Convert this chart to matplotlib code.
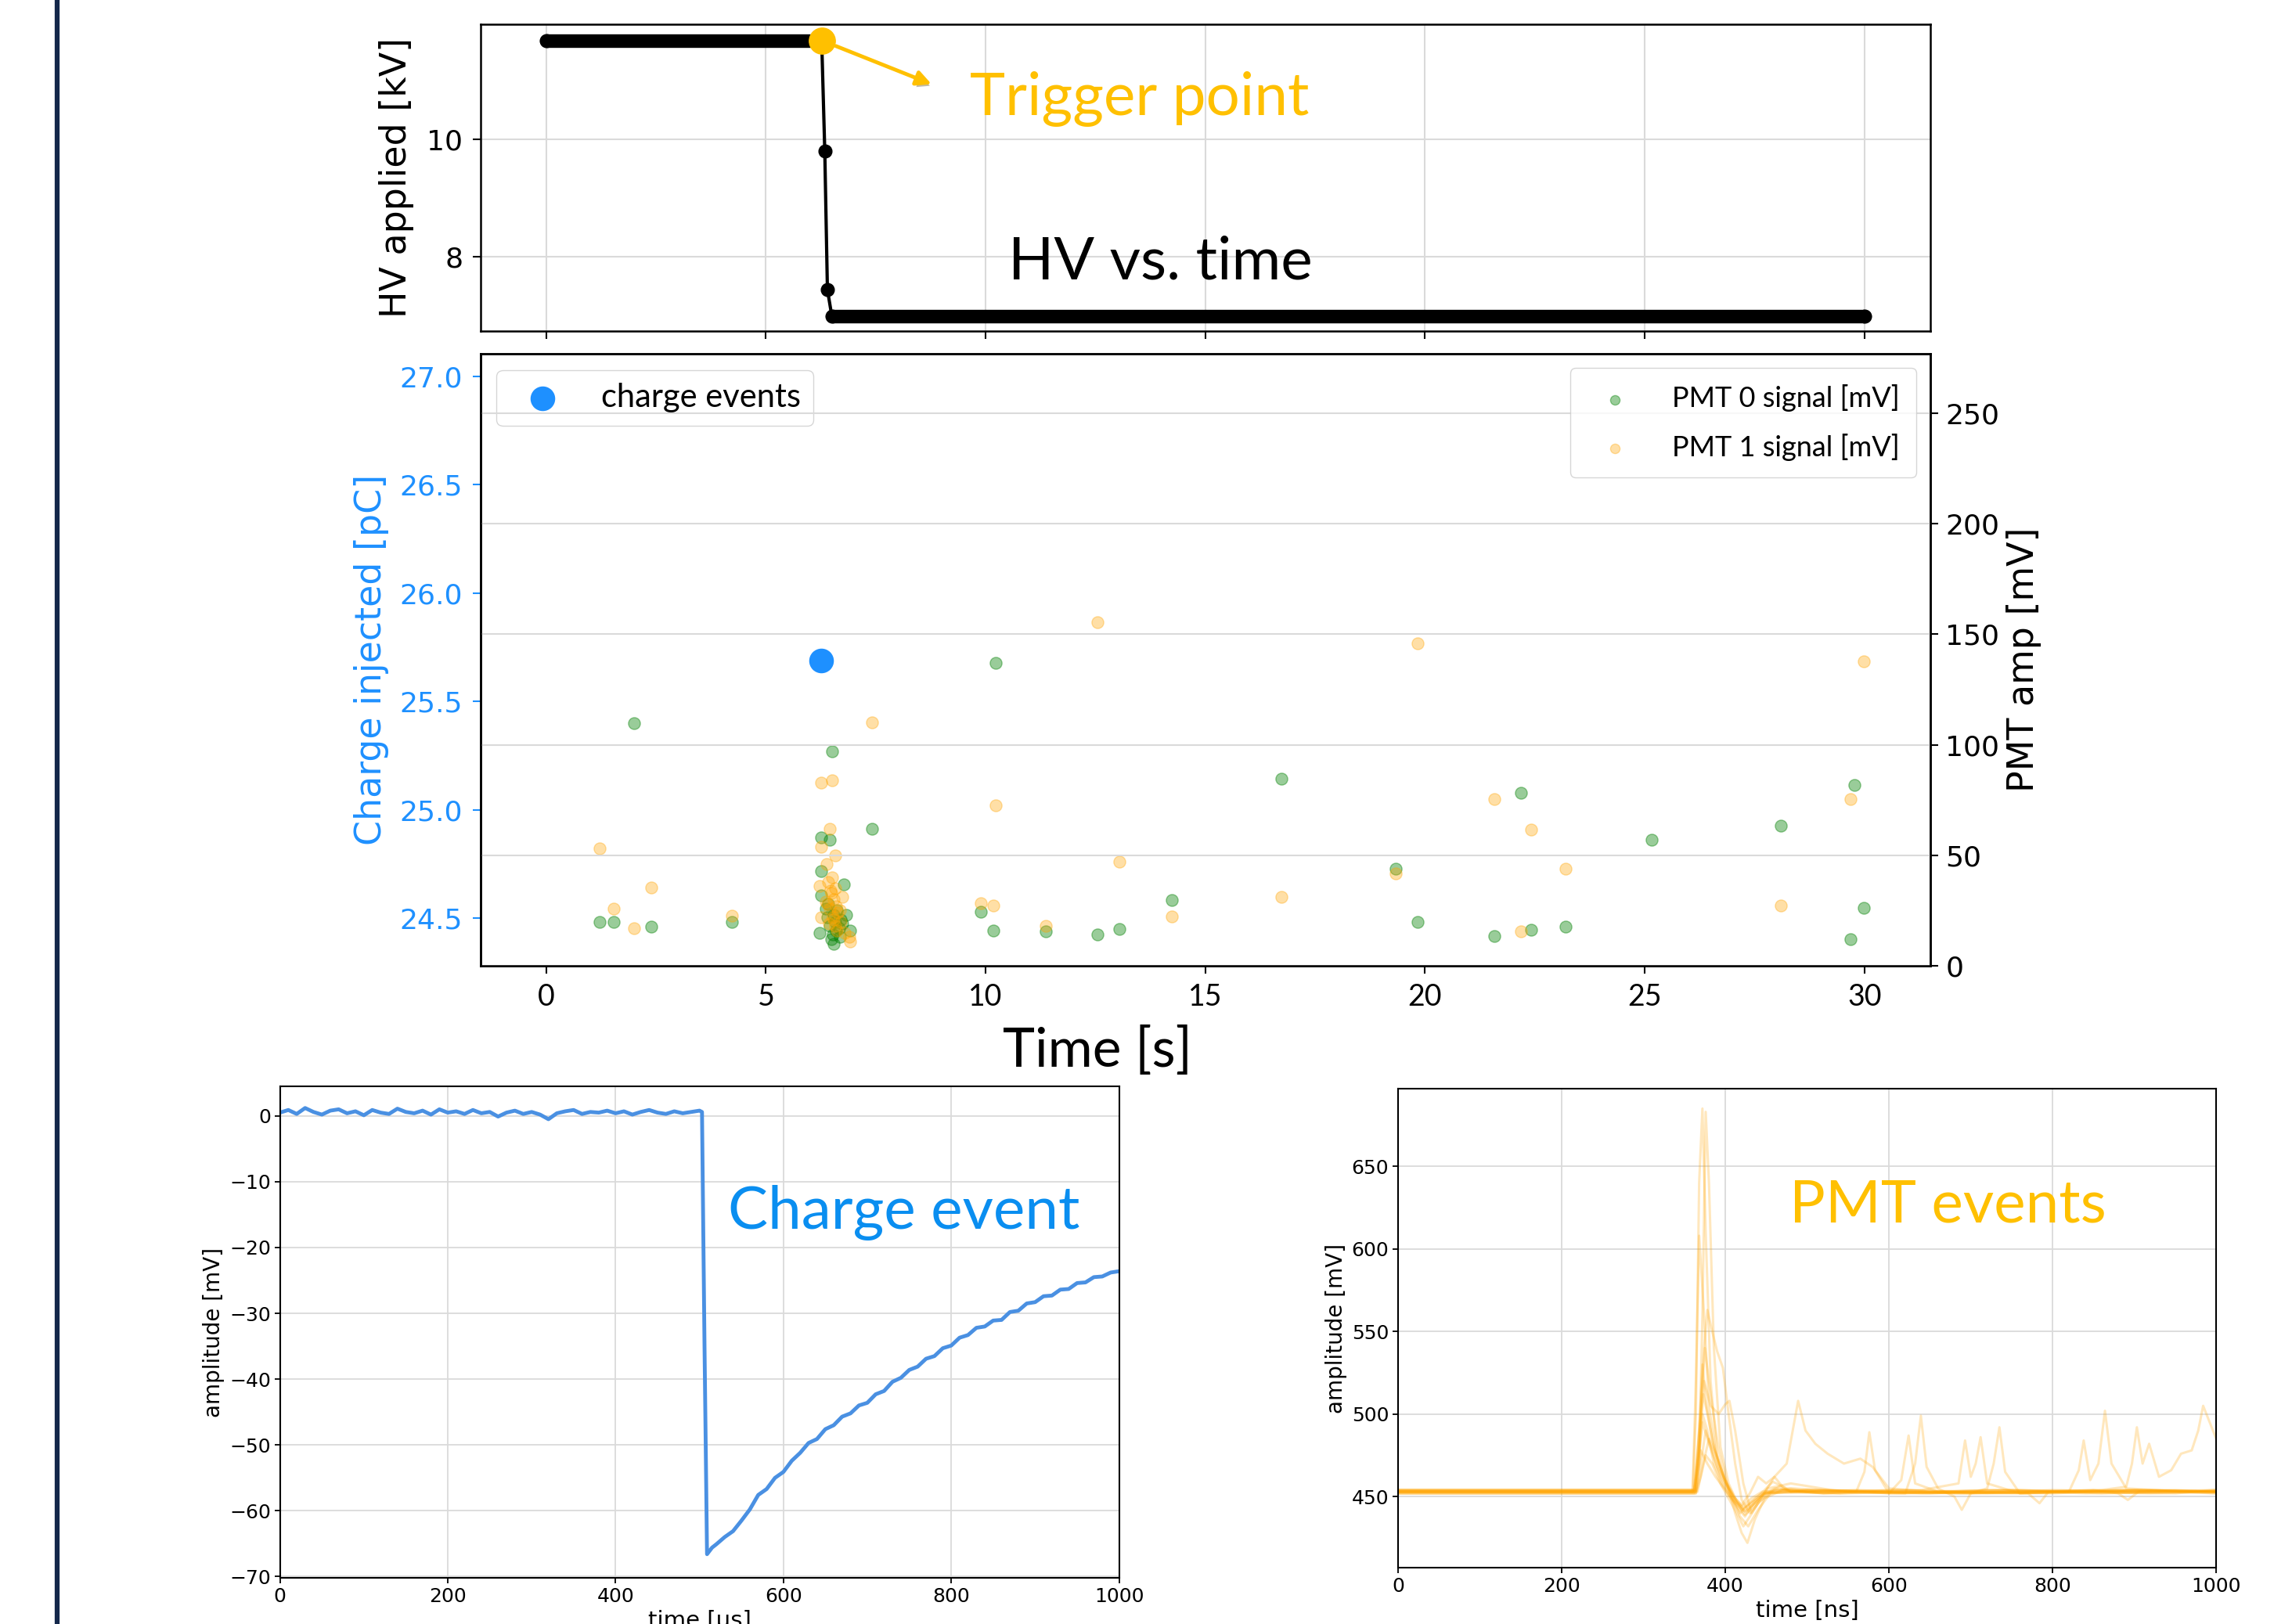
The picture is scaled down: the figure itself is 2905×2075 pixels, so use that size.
import matplotlib
matplotlib.use('Agg')
import matplotlib.pyplot as plt
import matplotlib.patheffects as pe
from matplotlib.lines import Line2D

plt.rcParams['font.family'] = 'DejaVu Sans'
CAL = ['Lato', 'DejaVu Sans']   # stand-in for the slide font

GOLD = '#FFC000'
BLUE = '#1E90FF'
GRID = '#dadada'

# ---------------- HV vs time (top panel) ----------------
hv_t = [0.0, 6.27, 6.34, 6.40, 6.50, 30.0]
hv_kv = [11.69, 11.69, 9.80, 7.43, 6.98, 6.98]
trigger_t = 6.27
trigger_kv = 11.70
arrow_end_t = 8.77
arrow_end_kv = 10.95

# ---------------- charge / PMT scatter (middle panel) ----------------
charge_event_t = [6.26]
charge_event_pc = [25.69]

pmt0_t = [1.21, 1.54, 2.00, 2.39, 4.23, 7.42, 9.89, 10.18, 10.23, 11.37, 12.54, 13.05,
          14.24, 16.73, 19.34, 19.83, 21.58, 22.18, 22.42, 23.20, 25.15, 28.09, 29.69,
          29.78, 29.99,
          6.50, 6.26, 6.46, 6.26, 6.78, 6.26, 6.22, 6.54, 6.91, 6.82, 6.40, 6.45,
          6.52, 6.58, 6.62, 6.66, 6.70, 6.36, 6.48, 6.55, 6.60, 6.74, 6.42, 6.68]
pmt0_mv = [19.7, 19.7, 109.6, 17.7, 19.7, 62.0, 24.6, 16.1, 137.0, 15.5, 14.1, 16.8,
           29.6, 84.8, 44.0, 19.7, 13.4, 78.3, 16.3, 17.7, 57.1, 63.5, 12.0,
           81.9, 26.1,
           97, 58, 57, 43, 37, 32, 15, 10, 16, 23, 22, 18,
           14, 20, 25, 17, 21, 26, 12, 23, 16, 19, 28, 13]

pmt1_t = [1.21, 1.54, 2.00, 2.39, 4.23, 7.42, 9.89, 10.18, 10.23, 11.37, 12.54, 13.05,
          14.24, 16.73, 19.34, 19.83, 21.58, 22.18, 22.42, 23.20, 28.09, 29.69, 29.99,
          6.26, 6.50, 6.46, 6.26, 6.58, 6.38, 6.51, 6.22, 6.73, 6.26, 6.91, 6.89,
          6.42, 6.47, 6.55, 6.60, 6.64, 6.70, 6.45, 6.52, 6.57, 6.62, 6.36, 6.68,
          6.49, 6.54, 6.44, 6.80, 6.40, 6.58]
pmt1_mv = [53.0, 26.0, 17.0, 35.5, 22.8, 110.0, 28.2, 27.3, 72.5, 17.9, 155.3, 47.2,
           22.4, 31.0, 41.8, 146.0, 75.6, 15.5, 61.5, 43.8, 27.3, 75.6, 137.6,
           83, 84, 62, 54, 50, 46, 40, 36, 31, 22, 11, 13,
           38, 34, 30, 27, 24, 20, 26, 22, 18, 16, 29, 25,
           33, 21, 19, 15, 28, 35]

# ---------------- charge waveform (bottom left) ----------------
charge_wf_t = [0, 10, 20, 30, 40, 50, 60, 70, 80, 90,
               100, 110, 120, 130, 140, 150, 160, 170, 180, 190,
               200, 210, 220, 230, 240, 250, 260, 270, 280, 290,
               300, 310, 320, 330, 340, 350, 360, 370, 380, 390,
               400, 410, 420, 430, 440, 450, 460, 470, 480, 490, 500,
               503, 506, 509, 515, 520, 530, 540, 550, 560, 570, 580, 590,
               600, 610, 620, 630, 640, 650, 660, 670, 680, 690,
               700, 710, 720, 730, 740, 750, 760, 770, 780, 790,
               800, 810, 820, 830, 840, 850, 860, 870, 880, 890,
               900, 910, 920, 930, 940, 950, 960, 970, 980, 990, 1000]
charge_wf_mv = [0.5, 0.9, 0.3, 1.2, 0.6, 0.2, 0.8, 1.0, 0.4, 0.7,
                0.1, 0.9, 0.5, 0.3, 1.1, 0.6, 0.4, 0.8, 0.2, 1.0,
                0.5, 0.7, 0.3, 0.9, 0.4, 0.6, -0.1, 0.5, 0.8, 0.3,
                0.6, 0.2, -0.5, 0.4, 0.7, 0.9, 0.3, 0.6, 0.5, 0.8,
                0.4, 0.7, 0.2, 0.6, 0.9, 0.5, 0.3, 0.7, 0.4, 0.6, 0.8,
                0.6, -35.0, -66.6, -65.6, -65.1, -64.0, -63.1, -61.5, -59.8, -57.6, -56.7, -55.0,
                -54.1, -52.4, -51.2, -49.7, -49.1, -47.6, -47.0, -45.7, -45.2, -44.0,
                -43.6, -42.3, -41.8, -40.4, -39.8, -38.6, -38.1, -36.9, -36.5, -35.3,
                -34.9, -33.7, -33.3, -32.2, -32.0, -31.1, -31.0, -29.8, -29.6, -28.5,
                -28.3, -27.4, -27.3, -26.4, -26.3, -25.4, -25.3, -24.5, -24.4, -23.8, -23.6]

# ---------------- PMT waveforms (bottom right) ----------------
wf_a_t = [0, 360, 364, 368, 372, 376, 382, 390, 400, 410, 420, 432, 445, 470, 520, 600, 700, 800, 900, 1000]
wf_a_mv = [453, 453, 500, 640, 685, 610, 520, 475, 458, 448, 444, 449, 453, 454, 452, 454, 453, 452, 454, 453]

wf_b_t = [0, 364, 368, 372, 376, 380, 386, 394, 404, 414, 424, 436, 450, 480, 560, 650, 750, 850, 950, 1000]
wf_b_mv = [454, 454, 470, 560, 683, 640, 540, 480, 458, 447, 441, 446, 452, 455, 453, 452, 454, 453, 452, 454]

wf_c_t = [0, 360, 364, 368, 374, 380, 388, 398, 408, 418, 428, 440, 455, 500, 600, 700, 800, 900, 1000]
wf_c_mv = [453, 453, 520, 608, 560, 505, 478, 462, 450, 438, 432, 442, 452, 454, 453, 452, 453, 454, 453]

wf_d_t = [0, 362, 368, 374, 378, 384, 390, 397, 404, 412, 420, 430, 442, 460, 520, 620, 720, 820, 920, 1000]
wf_d_mv = [452, 452, 480, 540, 563, 550, 538, 528, 500, 470, 448, 440, 447, 454, 453, 452, 454, 453, 452, 453]

wf_e_t = [0, 362, 368, 374, 382, 392, 400, 405, 412, 422, 432, 445, 460, 475, 489, 498, 510, 525,
          545, 565, 580, 600, 650, 750, 850, 950, 1000]
wf_e_mv = [453, 453, 478, 520, 505, 500, 506, 508, 490, 458, 440, 450, 462, 470, 508, 490, 482, 476,
           470, 473, 468, 455, 453, 452, 453, 454, 453]

wf_f_t = [0, 362, 368, 375, 382, 392, 402, 412, 420, 427, 436, 448, 470, 520, 560, 570, 576, 583,
          600, 615, 624, 632, 660, 760, 860, 960, 1000]
wf_f_mv = [454, 454, 490, 540, 512, 478, 458, 440, 428, 422, 436, 449, 454, 452, 453, 465, 489, 466,
           452, 460, 487, 458, 453, 454, 452, 453, 454]

wf_g_t = [0, 364, 368, 372, 378, 386, 396, 408, 418, 430, 445, 520, 620, 632, 639, 646, 660, 680,
          689, 700, 720, 728, 735, 742, 760, 860, 1000]
wf_g_mv = [453, 453, 475, 500, 490, 470, 458, 448, 440, 446, 452, 453, 452, 470, 499, 468, 455, 450,
           442, 452, 455, 470, 492, 465, 452, 453, 453]

wf_h_t = [0, 364, 370, 376, 384, 394, 404, 414, 424, 436, 450, 540, 640, 685, 693, 700, 706, 712,
          720, 760, 820, 832, 838, 846, 856, 864, 872, 890, 960, 1000]
wf_h_mv = [452, 452, 470, 490, 478, 462, 452, 444, 438, 447, 453, 452, 454, 458, 484, 462, 470, 486,
           458, 452, 453, 466, 484, 460, 470, 502, 470, 455, 453, 452]

wf_i_t = [0, 366, 372, 380, 388, 398, 410, 420, 432, 448, 520, 640, 760, 860, 890, 897, 903, 910,
          918, 930, 945, 957, 970, 978, 984, 992, 1000]
wf_i_mv = [453, 453, 468, 485, 476, 462, 450, 442, 446, 452, 454, 452, 453, 454, 456, 470, 492, 470,
           482, 462, 466, 476, 478, 490, 505, 495, 485]

wf_j_t = [0, 364, 370, 378, 388, 400, 412, 424, 438, 452, 480, 530, 600, 700, 770, 784, 795, 850,
          880, 892, 905, 1000]
wf_j_mv = [453, 453, 478, 470, 462, 454, 446, 441, 447, 455, 458, 454, 452, 453, 452, 446, 453, 454,
           452, 448, 453, 453]

wf_k_t = [0, 362, 367, 372, 380, 390, 400, 410, 420, 430, 440, 450, 460, 470, 480, 500, 600, 700,
          800, 900, 1000]
wf_k_mv = [454, 454, 470, 495, 482, 468, 458, 450, 445, 452, 462, 458, 462, 456, 453, 454, 453, 452,
           454, 453, 454]

wf_l_t = [0, 364, 370, 376, 384, 394, 404, 414, 422, 430, 440, 452, 466, 480, 540, 640, 740, 840,
          940, 1000]
wf_l_mv = [452, 452, 462, 475, 470, 458, 449, 440, 432, 438, 446, 452, 456, 453, 452, 453, 454, 452,
           453, 452]

wf_m_t = [0, 363, 368, 373, 379, 386, 394, 404, 414, 424, 434, 446, 460, 500, 560, 680, 780, 880, 1000]
wf_m_mv = [453, 453, 488, 512, 498, 480, 466, 455, 446, 439, 444, 451, 455, 453, 454, 452, 453, 454, 453]

wf_n_t = [0, 362, 367, 372, 377, 384, 392, 402, 412, 422, 432, 444, 458, 475, 510, 620, 720, 820, 920, 1000]
wf_n_mv = [454, 454, 482, 530, 505, 484, 470, 458, 449, 443, 447, 452, 459, 455, 453, 454, 452, 453, 454, 453]


def style_spines(ax, lw):
    for s in ax.spines.values():
        s.set_linewidth(lw)


fig = plt.figure(figsize=(29.05, 20.75), dpi=100)

# slide edge bar
fig.add_artist(Line2D([0.0251, 0.0251], [0, 1], transform=fig.transFigure,
                      color='#14284b', lw=4.5))

ax_hv = fig.add_axes([0.2112, 0.7961, 0.6377, 0.1891])
ax_q = fig.add_axes([0.2112, 0.4053, 0.6377, 0.3770])
ax_pmt = ax_q.twinx()
ax_cw = fig.add_axes([0.1231, 0.0284, 0.3690, 0.3027])
ax_pw = fig.add_axes([0.6148, 0.0347, 0.3598, 0.2949])

# ---- top: HV ----
ax_hv.plot(hv_t[:2], hv_kv[:2], color='black', lw=12.5, solid_capstyle='round')
ax_hv.plot(hv_t[4:], hv_kv[4:], color='black', lw=12.5, solid_capstyle='round')
ax_hv.plot(hv_t, hv_kv, color='black', lw=3, marker='o', ms=12)
ax_hv.plot([trigger_t], [trigger_kv], 'o', ms=24, color=GOLD, zorder=6, clip_on=False)
ax_hv.annotate('', xy=(arrow_end_t, arrow_end_kv), xytext=(trigger_t, trigger_kv),
               arrowprops=dict(arrowstyle='-|>', color=GOLD, lw=3.5, mutation_scale=28,
                               shrinkA=14, shrinkB=0,
                               path_effects=[pe.withSimplePatchShadow(offset=(2, -3), alpha=0.35)]))
ax_hv.set_xlim(-1.5, 31.5)
ax_hv.set_ylim(6.72, 11.98)
ax_hv.set_xticks([0, 5, 10, 15, 20, 25, 30])
ax_hv.set_xticklabels([])
ax_hv.set_yticks([8, 10])
ax_hv.grid(True, color=GRID, lw=1.5)
ax_hv.set_axisbelow(True)
ax_hv.set_ylabel('HV applied [kV]', fontsize=33, labelpad=12)
ax_hv.tick_params(labelsize=26, length=7, width=1.5, pad=9)
style_spines(ax_hv, 1.8)

fig.text(0.4265, 0.9292, 'Trigger point', color=GOLD, fontsize=55, family=CAL, va='baseline')
fig.text(0.4433, 0.8281, 'HV vs. time', color='black', fontsize=55, family=CAL, va='baseline')

# ---- middle: charge + PMT amplitudes ----
ax_q.scatter(charge_event_t, charge_event_pc, s=470, color=BLUE, label='charge events', zorder=3)
ax_q.set_xlim(-1.5, 31.5)
ax_q.set_ylim(24.28, 27.105)
ax_q.set_yticks([24.5, 25.0, 25.5, 26.0, 26.5, 27.0])
ax_q.set_yticklabels(['24.5', '25.0', '25.5', '26.0', '26.5', '27.0'])
ax_q.set_xticks([0, 5, 10, 15, 20, 25, 30])
ax_q.tick_params(axis='y', colors=BLUE, labelsize=26, length=7, width=1.5, pad=9)
ax_q.tick_params(axis='x', labelsize=27, length=7, width=1.5, pad=9)
for lab in ax_q.get_xticklabels():
    lab.set_family(CAL)
ax_q.set_ylabel('Charge injected [pC]', color=BLUE, fontsize=33, labelpad=10)
ax_q.set_xlabel('Time [s]', fontsize=50, family=CAL)
ax_q.xaxis.set_label_coords(0.4254, -0.098)
ax_q.legend(loc='upper left', prop={'family': CAL, 'size': 30})
style_spines(ax_q, 1.8)

ax_pmt.scatter(pmt0_t, pmt0_mv, s=120, color='green', alpha=0.4, label='PMT 0 signal [mV]')
ax_pmt.scatter(pmt1_t, pmt1_mv, s=120, color='orange', alpha=0.35, label='PMT 1 signal [mV]')
ax_pmt.set_ylim(0, 277)
ax_pmt.set_yticks([0, 50, 100, 150, 200, 250])
ax_pmt.grid(True, axis='y', color=GRID, lw=1.5)
ax_pmt.tick_params(axis='y', labelsize=26, length=7, width=1.5, pad=7)
ax_pmt.set_ylabel('PMT amp [mV]', fontsize=33, labelpad=6)
ax_pmt.legend(loc='upper right', prop={'family': CAL, 'size': 26}, markerscale=0.8,
              labelspacing=0.75, borderpad=0.6, handletextpad=1.0)
style_spines(ax_pmt, 1.8)

# ---- bottom left: charge waveform ----
ax_cw.plot(charge_wf_t, charge_wf_mv, color='#4a90e2', lw=3.5)
ax_cw.set_xlim(0, 1000)
ax_cw.set_ylim(-70.2, 4.5)
ax_cw.set_yticks([0, -10, -20, -30, -40, -50, -60, -70])
ax_cw.set_xticks([0, 200, 400, 600, 800, 1000])
ax_cw.grid(True, color=GRID, lw=1.3)
ax_cw.set_axisbelow(True)
ax_cw.tick_params(labelsize=18, length=5, width=1.3)
ax_cw.set_ylabel('amplitude [mV]', fontsize=20)
ax_cw.set_xlabel('time [µs]', fontsize=21)
style_spines(ax_cw, 1.5)
fig.text(0.3201, 0.2434, 'Charge event', color='#0a8ef0', fontsize=55, family=CAL, va='baseline')

# ---- bottom right: PMT waveforms ----
for wt, wv in [(wf_a_t, wf_a_mv), (wf_b_t, wf_b_mv), (wf_c_t, wf_c_mv), (wf_d_t, wf_d_mv),
               (wf_e_t, wf_e_mv), (wf_f_t, wf_f_mv), (wf_g_t, wf_g_mv), (wf_h_t, wf_h_mv),
               (wf_i_t, wf_i_mv), (wf_j_t, wf_j_mv), (wf_k_t, wf_k_mv), (wf_l_t, wf_l_mv),
               (wf_m_t, wf_m_mv), (wf_n_t, wf_n_mv)]:
    ax_pw.plot(wt, wv, color='orange', alpha=0.26, lw=2.2)
ax_pw.set_xlim(0, 1000)
ax_pw.set_ylim(407, 697)
ax_pw.set_yticks([450, 500, 550, 600, 650])
ax_pw.set_xticks([0, 200, 400, 600, 800, 1000])
ax_pw.grid(True, color=GRID, lw=1.3)
ax_pw.set_axisbelow(True)
ax_pw.tick_params(labelsize=18, length=5, width=1.3)
ax_pw.set_ylabel('amplitude [mV]', fontsize=20)
ax_pw.set_xlabel('time [ns]', fontsize=21)
style_spines(ax_pw, 1.5)
fig.text(0.787, 0.2477, 'PMT events', color=GOLD, fontsize=55, family=CAL, va='baseline')

fig.savefig('out.png', dpi=100)
